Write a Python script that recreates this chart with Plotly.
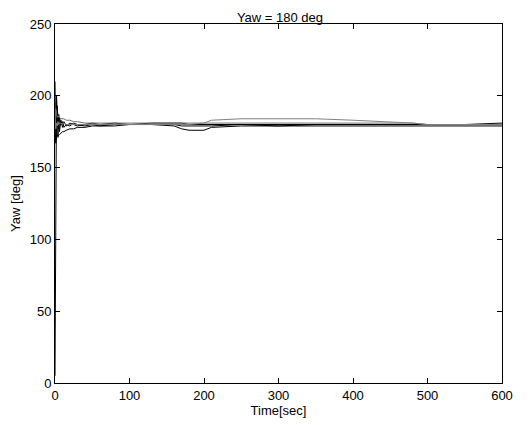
import plotly.graph_objects as go

# Time samples (sec)
time_s = [0, 1, 2, 3, 4, 5, 6, 8, 10, 12, 15, 20, 25, 30, 40, 50, 60, 80, 100,
          130, 160, 170, 180, 200, 210, 250, 300, 350, 400, 450, 480, 500, 550, 600]

# Yaw responses (deg) for several runs
yaw_run1 = [5, 120, 200, 189, 171, 187, 175, 183, 178, 182, 179, 181, 180, 179, 180, 181, 180, 181, 180,
            181, 181, 181, 180, 180, 180, 180, 179, 180, 180, 180, 180, 180, 180, 181]
yaw_run2 = [210, 167, 175, 193, 184, 177, 185, 180, 182, 178, 180, 179, 181, 180, 179, 180, 179, 180, 180,
            180, 180, 179, 179, 179, 179, 180, 180, 180, 180, 180, 180, 180, 180, 180]
yaw_run3 = [179, 191, 187, 185, 186, 185, 185, 184, 184, 184, 183, 183, 182, 182, 181, 181, 181, 181, 181,
            181, 181, 181, 181, 181, 181, 181, 181, 181, 181, 181, 181, 180, 180, 180]
yaw_run4 = [174, 169, 171, 173, 172, 173, 173, 174, 175, 175, 176, 177, 177, 178, 178, 179, 179, 179, 180,
            180, 179, 177, 176, 176, 178, 179, 179, 179, 179, 179, 179, 179, 179, 179]
yaw_run5 = [184, 177, 181, 179, 182, 180, 181, 181, 180, 181, 180, 180, 180, 180, 180, 180, 180, 180, 180,
            180, 180, 180, 180, 181, 183, 184, 184, 184, 183, 182, 181, 180, 180, 180]

runs = [yaw_run1, yaw_run2, yaw_run3, yaw_run4, yaw_run5]
colors = ["black", "black", "#707070", "black", "#808080"]

x_ticks = [0, 100, 200, 300, 400, 500, 600]
y_ticks = [0, 50, 100, 150, 200, 250]

fig = go.Figure()
for r, c in zip(runs, colors):
    fig.add_trace(go.Scatter(x=time_s, y=r, mode="lines",
                             line=dict(color=c, width=1), showlegend=False))

font = dict(family="Liberation Sans, Arial, sans-serif", size=13, color="black")
axis_common = dict(showgrid=False, zeroline=False, showline=True, linecolor="black",
                   linewidth=1, mirror="ticks", ticks="inside", ticklen=5,
                   tickcolor="black", tickfont=font, automargin=False)

# page body has an 8px margin, so the figure is sized to fit the 531x425 window
fig.update_layout(
    width=523, height=417,
    margin=dict(l=47, r=29, t=16, b=42),
    paper_bgcolor="white", plot_bgcolor="white",
    font=font,
    title=dict(text="Yaw = 180 deg", x=0.52, xanchor="center", y=0.978, yanchor="middle",
               font=font),
    xaxis=dict(range=[0, 600], tickvals=x_ticks,
               title=dict(text="Time[sec]", standoff=2, font=font), **axis_common),
    yaxis=dict(range=[0, 250], tickvals=y_ticks,
               title=dict(text="Yaw [deg]", standoff=6, font=font), **axis_common),
)

fig.write_html("out.html")
